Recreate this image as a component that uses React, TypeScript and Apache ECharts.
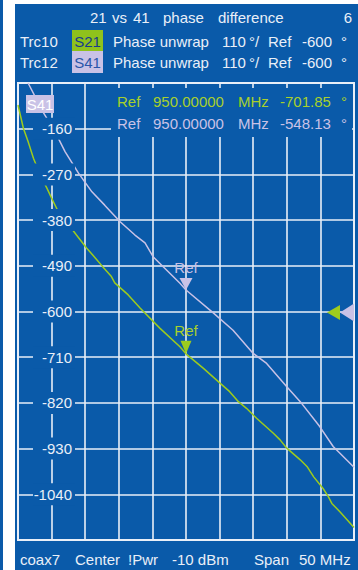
import React, { useEffect, useRef } from 'react';
import * as echarts from 'echarts';

// Sweep settings
const FREQ_START = 925;
const FREQ_STOP = 975;
const FREQ_DIV = 5;
const REF_LEVEL = -600;
const SCALE_DIV = 110;
const MARKER_FREQ = 950;

// Trc10: S21 unwrapped phase (MHz, deg)
const s21Freq = [925.0, 925.8, 926.5, 927.3, 928.3, 929.3, 930.0, 931.0, 932.2, 933.7, 935.2, 936.5, 937.6, 938.9, 939.4, 941.4, 943.2, 946.1, 949.1, 950.0, 952.6, 955.1, 956.5, 957.8, 959.0, 960.5, 963.0, 964.0, 965.0, 967.0, 968.0, 969.0, 970.4, 971.2, 971.7, 972.9, 975.0];
const s21Phase = [-103, -159, -191, -231, -271, -303, -327, -360, -384, -416, -447, -471, -492, -516, -531, -560, -592, -640, -685, -701.85, -737, -773, -793, -817, -833, -857, -893, -909, -929, -957, -973, -998, -1026, -1046, -1062, -1082, -1120];

// Trc12: S41 unwrapped phase (MHz, deg)
const s41Freq = [926.5, 928.8, 930.5, 932.0, 934.0, 936.0, 937.9, 940.2, 942.4, 943.9, 945.1, 949.1, 950.0, 954.1, 957.0, 960.0, 962.0, 965.0, 967.0, 969.9, 971.9, 975.0];
const s41Phase = [-50, -122, -167, -215, -267, -312, -344, -384, -416, -435, -468, -532, -548.13, -604, -645, -701, -725, -781, -817, -877, -925, -975];

// Marker readouts at MARKER_FREQ
const s21Marker = -701.85;
const s41Marker = -548.13;

const BLUE = '#0a5aa9';
const WHITE = '#e9eff8';
const GREEN = '#9dcb1e';
const GREEN_TXT = '#a8d02c';
const LAV = '#c9c2e6';
const FONT = '"Liberation Sans", Arial, sans-serif';

// The y axis runs from REF_LEVEL - 5 div to REF_LEVEL + 5 div; values are
// plotted relative to the bottom so the ticks start at a multiple of the interval.
const Y_BOTTOM = REF_LEVEL - 5 * SCALE_DIV;
const Y_TOP = REF_LEVEL + 5 * SCALE_DIV;
const toAxis = (v: number) => v - Y_BOTTOM;

function txt(text: string, x: number, y: number, fill = WHITE, align = 'left') {
  return {
    type: 'text',
    x,
    y,
    z: 10,
    style: { text, fill, font: `15px ${FONT}`, align, verticalAlign: 'middle' },
  };
}

const DOWN_TRI = 'path://M0,0L10,0L5,10Z';
const LEFT_TRI = 'path://M10,0L10,10L0,5Z';

function buildOption() {
  const s21Data = s21Freq.map((f, i) => [f, toAxis(s21Phase[i])]);
  const s41Data = s41Freq.map((f, i) => [f, toAxis(s41Phase[i])]);

  const yCommon = {
    type: 'value',
    position: 'left',
    min: toAxis(Y_BOTTOM),
    max: toAxis(Y_TOP),
    interval: SCALE_DIV,
    axisLine: { show: false },
    axisTick: { show: false },
  };

  const title = [
    ['21', 90], ['vs', 112], ['41', 133], ['phase', 163], ['difference', 218],
  ] as [string, number][];

  const graphics: any[] = [
    ...title.map(([t, x]) => txt(t, x, 17.5)),
    txt('6', 352, 17.5, WHITE, 'right'),
    txt('Trc10', 20, 41),
    txt('Trc12', 20, 62),
    { type: 'rect', z: 9, shape: { x: 72, y: 30, width: 31, height: 21 }, style: { fill: '#8fc21c' } },
    txt('S21', 87.5, 41, '#183c8e', 'center'),
    { type: 'rect', z: 9, shape: { x: 72, y: 51, width: 31, height: 22 }, style: { fill: LAV } },
    txt('S41', 87.5, 62, '#2a56aa', 'center'),
    txt('Phase unwrap', 113, 41),
    txt('Phase unwrap', 113, 62),
    txt(String(SCALE_DIV), 222, 41),
    txt(String(SCALE_DIV), 222, 62),
    txt('°/', 249, 41),
    txt('°/', 249, 62),
    txt('Ref', 268, 41),
    txt('Ref', 268, 62),
    txt(String(REF_LEVEL), 302, 41),
    txt(String(REF_LEVEL), 302, 62),
    txt('°', 341, 41),
    txt('°', 341, 62),
    // marker readout box inside the diagram
    { type: 'rect', z: 3, shape: { x: 111, y: 88, width: 241, height: 49 }, style: { fill: BLUE } },
    txt('Ref', 117, 101, GREEN_TXT),
    txt(MARKER_FREQ.toFixed(5), 153, 101, GREEN_TXT),
    txt('MHz', 238, 101, GREEN_TXT),
    txt(s21Marker.toFixed(2), 280, 101, GREEN_TXT),
    txt('°', 341, 101, GREEN_TXT),
    txt('Ref', 117, 123, LAV),
    txt(MARKER_FREQ.toFixed(5), 153, 123, LAV),
    txt('MHz', 238, 123, LAV),
    txt(s41Marker.toFixed(2), 280, 123, LAV),
    txt('°', 341, 123, LAV),
    // trace tag
    { type: 'rect', z: 9, shape: { x: 26, y: 95, width: 28, height: 18 }, style: { fill: LAV } },
    txt('S41', 40, 104.5, '#ffffff', 'center'),
    // footer
    txt('coax7', 20, 559),
    txt('Center', 75, 559),
    txt('!Pwr', 128, 559),
    txt('-10 dBm', 172, 559),
    txt('Span', 254, 559),
    txt(`${FREQ_STOP - FREQ_START} MHz`, 299, 559),
  ];

  const refLabel = (color: string) => ({
    show: true,
    position: 'top',
    distance: 3,
    formatter: 'Ref',
    color,
    fontSize: 15,
    fontFamily: FONT,
  });

  return {
    animation: false,
    backgroundColor: 'transparent',
    grid: {
      left: 18,
      right: 4,
      top: 83,
      bottom: 30,
      show: true,
      backgroundColor: 'transparent',
      borderColor: WHITE,
      borderWidth: 2,
    },
    xAxis: {
      type: 'value',
      min: FREQ_START,
      max: FREQ_STOP,
      interval: FREQ_DIV,
      axisLine: { show: false },
      axisTick: { show: false },
      axisLabel: { show: false },
      splitLine: { show: true, lineStyle: { color: WHITE, width: 1.6 } },
    },
    yAxis: [
      {
        ...yCommon,
        axisLabel: { show: false },
        splitLine: { show: true, lineStyle: { color: WHITE, width: 1.6 } },
      },
      {
        ...yCommon,
        z: 5,
        splitLine: { show: false },
        axisLabel: {
          inside: true,
          align: 'right',
          margin: 57,
          width: 36,
          padding: [3, 3, 3, 3],
          lineHeight: 16,
          backgroundColor: BLUE,
          color: WHITE,
          fontSize: 15,
          fontFamily: FONT,
          showMinLabel: false,
          showMaxLabel: false,
          formatter: (v: number) => String(Math.round(v + Y_BOTTOM)),
        },
      },
    ],
    graphic: { elements: graphics },
    series: [
      {
        name: 'S41',
        type: 'line',
        data: s41Data,
        showSymbol: false,
        symbol: 'none',
        lineStyle: { color: LAV, width: 1.5 },
        markPoint: {
          silent: true,
          data: [
            {
              coord: [MARKER_FREQ, toAxis(s41Marker)],
              symbol: DOWN_TRI,
              symbolSize: [13, 12],
              symbolOffset: [0, -6],
              itemStyle: { color: LAV },
              label: refLabel(LAV),
            },
            {
              coord: [FREQ_STOP, toAxis(REF_LEVEL)],
              symbol: LEFT_TRI,
              symbolSize: [14, 18],
              symbolOffset: [-7, 1],
              itemStyle: { color: LAV },
              label: { show: false },
            },
          ],
        },
      },
      {
        name: 'S21',
        type: 'line',
        data: s21Data,
        showSymbol: false,
        symbol: 'none',
        lineStyle: { color: GREEN, width: 1.5 },
        markPoint: {
          silent: true,
          data: [
            {
              coord: [MARKER_FREQ, toAxis(s21Marker)],
              symbol: DOWN_TRI,
              symbolSize: [11, 13],
              symbolOffset: [0, -6.5],
              itemStyle: { color: GREEN },
              label: refLabel(GREEN_TXT),
            },
            {
              coord: [FREQ_STOP, toAxis(REF_LEVEL)],
              symbol: LEFT_TRI,
              symbolSize: [13, 15],
              symbolOffset: [-20.5, 1],
              itemStyle: { color: GREEN },
              label: { show: false },
            },
          ],
        },
      },
    ],
  };
}

export default function App() {
  const ref = useRef<HTMLDivElement>(null);
  useEffect(() => {
    if (!ref.current) return;
    const chart = echarts.init(ref.current, null, { renderer: 'svg' });
    chart.setOption(buildOption() as any);
    return () => chart.dispose();
  }, []);
  return (
    <div style={{ position: 'fixed', left: 0, top: 0, width: 358, height: 570, background: '#ffffff', overflow: 'hidden' }}>
      <div style={{ position: 'absolute', left: 0, top: 0, width: 3, height: 570, background: BLUE }} />
      <div style={{ position: 'absolute', left: 15, top: 4, width: 343, height: 566, background: BLUE }} />
      <div ref={ref} style={{ position: 'absolute', left: 0, top: 0, width: 358, height: 570 }} />
    </div>
  );
}
